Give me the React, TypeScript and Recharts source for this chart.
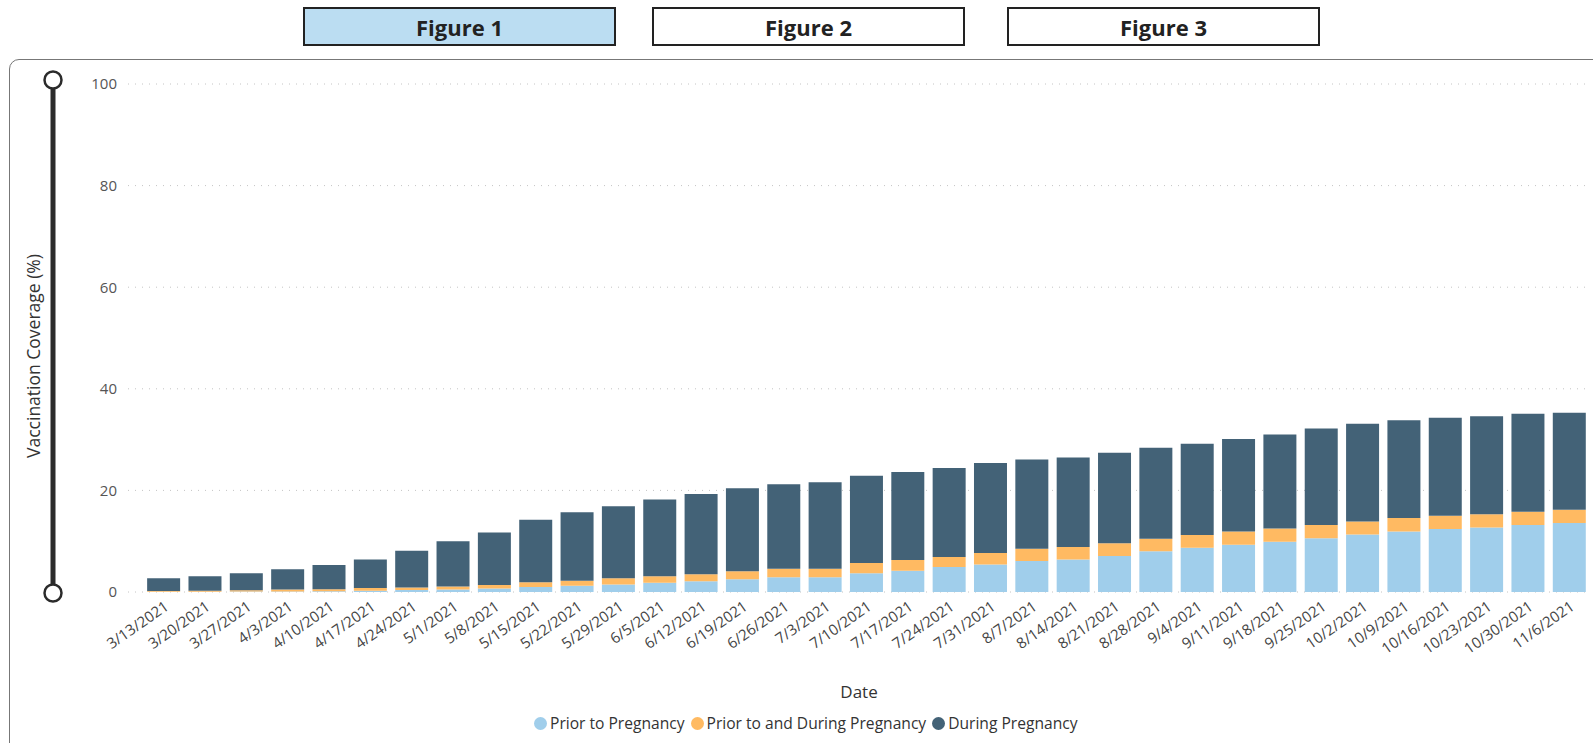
import React from "react";
import { BarChart, Bar, XAxis, YAxis, CartesianGrid, Legend } from "recharts";

const dates = [
  "3/13/2021", "3/20/2021", "3/27/2021", "4/3/2021", "4/10/2021", "4/17/2021", "4/24/2021",
  "5/1/2021", "5/8/2021", "5/15/2021", "5/22/2021", "5/29/2021", "6/5/2021", "6/12/2021",
  "6/19/2021", "6/26/2021", "7/3/2021", "7/10/2021", "7/17/2021", "7/24/2021", "7/31/2021",
  "8/7/2021", "8/14/2021", "8/21/2021", "8/28/2021", "9/4/2021", "9/11/2021", "9/18/2021",
  "9/25/2021", "10/2/2021", "10/9/2021", "10/16/2021", "10/23/2021", "10/30/2021", "11/6/2021",
];

const priorToPregnancy = [
  0.05, 0.07, 0.1, 0.12, 0.15, 0.25, 0.4, 0.5, 0.7, 1.0, 1.25, 1.5, 1.8, 2.1, 2.5, 2.9, 2.9,
  3.7, 4.2, 4.9, 5.4, 6.1, 6.4, 7.1, 8.0, 8.7, 9.3, 9.9, 10.6, 11.3, 11.9, 12.4, 12.7, 13.2, 13.6,
];

const priorAndDuring = [
  0.15, 0.18, 0.25, 0.38, 0.4, 0.55, 0.5, 0.6, 0.7, 0.9, 0.95, 1.2, 1.3, 1.4, 1.6, 1.7, 1.7,
  2.0, 2.1, 2.0, 2.3, 2.4, 2.45, 2.5, 2.5, 2.5, 2.6, 2.6, 2.6, 2.6, 2.65, 2.6, 2.6, 2.6, 2.6,
];

const duringPregnancy = [
  2.5, 2.85, 3.35, 4.0, 4.75, 5.6, 7.2, 8.9, 10.3, 12.3, 13.5, 14.2, 15.1, 15.8, 16.3, 16.6, 17.0,
  17.2, 17.3, 17.5, 17.7, 17.6, 17.65, 17.8, 17.9, 18.0, 18.2, 18.5, 19.0, 19.2, 19.25, 19.3, 19.3,
  19.3, 19.1,
];

const yTicks = [0, 20, 40, 60, 80, 100];
const figureButtons = ["Figure 1", "Figure 2", "Figure 3"];

const COLORS = {
  prior: "#A0CEEB",
  both: "#FFBA62",
  during: "#436277",
};

const FONT = "'Open Sans', 'Noto Sans', sans-serif";

const data = dates.map((date, i) => ({
  date,
  prior: priorToPregnancy[i],
  both: priorAndDuring[i],
  during: duringPregnancy[i],
}));

const legendItems = [
  { label: "Prior to Pregnancy", color: COLORS.prior },
  { label: "Prior to and During Pregnancy", color: COLORS.both },
  { label: "During Pregnancy", color: COLORS.during },
];

function LegendContent() {
  return (
    <div style={{ display: "flex", gap: 6, height: 30, alignItems: "center", fontFamily: FONT, fontSize: 15.6, color: "#333" }}>
      {legendItems.map((it) => (
        <span key={it.label} style={{ display: "inline-flex", alignItems: "center", gap: 3 }}>
          <span style={{ width: 13, height: 13, borderRadius: 7, background: it.color, display: "inline-block" }} />
          {it.label}
        </span>
      ))}
    </div>
  );
}

const buttonLefts = [303, 652, 1007];

export default function App() {
  return (
    <div style={{ position: "absolute", left: 0, top: 0, width: 1593, height: 743, overflow: "hidden", background: "#fff", fontFamily: FONT }}>
      {figureButtons.map((b, i) => (
        <div
          key={b}
          style={{
            position: "absolute",
            left: buttonLefts[i],
            top: 7,
            width: 313,
            height: 39,
            boxSizing: "border-box",
            border: "2px solid #222",
            background: i === 0 ? "#BBDDF2" : "#fff",
            display: "flex",
            alignItems: "center",
            justifyContent: "center",
            fontWeight: 700,
            fontSize: 22,
            color: "#222",
          }}
        >
          {b}
        </div>
      ))}
      <div
        style={{
          position: "absolute",
          left: 9,
          top: 59,
          width: 1640,
          height: 760,
          border: "1px solid #777",
          borderRadius: 10,
          boxSizing: "border-box",
        }}
      />
      <div style={{ position: "absolute", left: 0, top: 0 }}>
        <BarChart
          width={1593}
          height={743}
          data={data}
          margin={{ top: 84, right: 3, bottom: 0, left: 0 }}
          barCategoryGap="10%"
        >
          <CartesianGrid vertical={false} stroke="#c4c4c4" strokeDasharray="1 6" />
          <XAxis
            dataKey="date"
            interval={0}
            angle={-35}
            textAnchor="end"
            height={121}
            tickLine={false}
            axisLine={false}
            padding={{ left: 15, right: 0 }}
            tick={{ fontSize: 15, fill: "#444", fontFamily: FONT }}
            label={{ value: "Date", position: "insideBottom", offset: 15, fontSize: 17, fill: "#333", fontFamily: FONT }}
          />
          <YAxis
            domain={[0, 100]}
            ticks={yTicks}
            width={128}
            tickSize={0}
            tickMargin={11}
            axisLine={false}
            tick={{ fontSize: 15, fill: "#555", fontFamily: FONT }}
            label={{
              content: () => (
                <text
                  x={33}
                  y={356}
                  transform="rotate(-90 33 356)"
                  textAnchor="middle"
                  dominantBaseline="central"
                  fontSize={17.5}
                  fill="#333"
                  fontFamily={FONT}
                >
                  Vaccination Coverage (%)
                </text>
              ),
            }}
          />
          <Legend content={<LegendContent />} verticalAlign="bottom" wrapperStyle={{ left: 534, bottom: 5, width: "auto" }} />
          <Bar dataKey="prior" name="Prior to Pregnancy" stackId="a" fill={COLORS.prior} isAnimationActive={false} />
          <Bar dataKey="both" name="Prior to and During Pregnancy" stackId="a" fill={COLORS.both} isAnimationActive={false} />
          <Bar dataKey="during" name="During Pregnancy" stackId="a" fill={COLORS.during} isAnimationActive={false} />
        </BarChart>
      </div>
      <svg style={{ position: "absolute", left: 0, top: 0 }} width={120} height={620}>
        <line x1={53} y1={80} x2={53} y2={593} stroke="#2b2b2b" strokeWidth={5} />
        <circle cx={53} cy={80} r={8.5} fill="#fff" stroke="#2b2b2b" strokeWidth={2.5} />
        <circle cx={53} cy={593} r={8.5} fill="#fff" stroke="#2b2b2b" strokeWidth={2.5} />
      </svg>
    </div>
  );
}
